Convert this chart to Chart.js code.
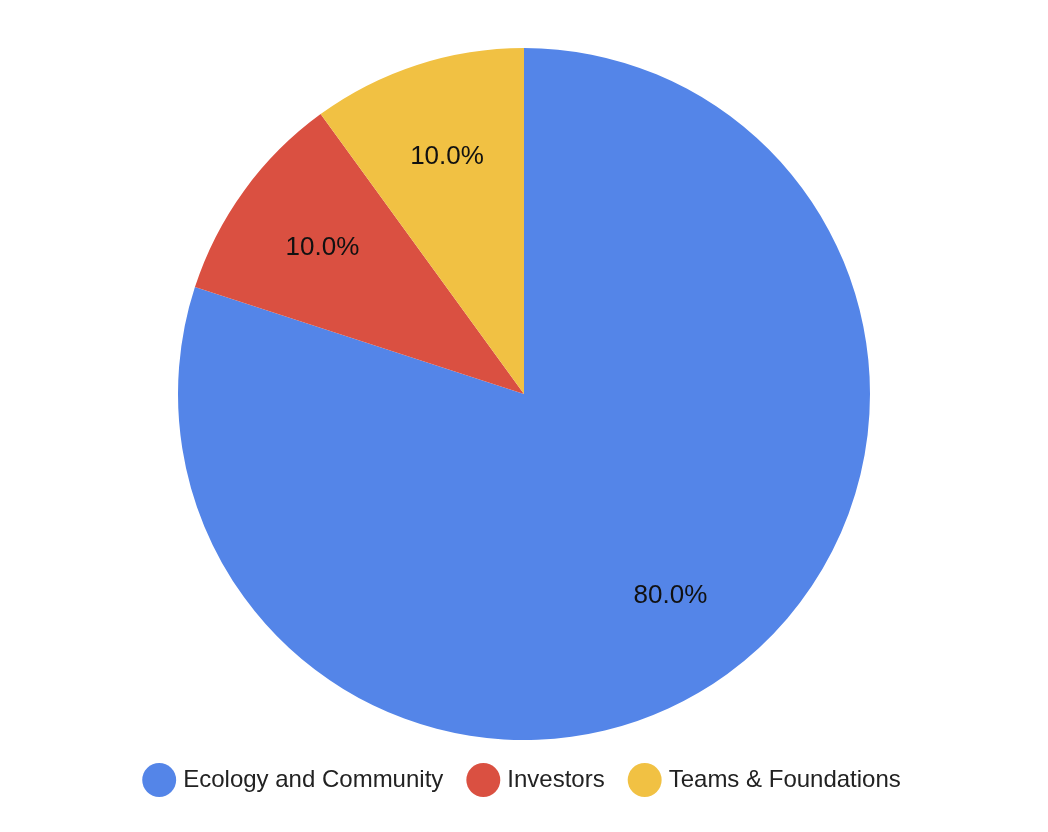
<!DOCTYPE html>
<html>
<head>
<script src="https://cdn.jsdelivr.net/npm/chart.js"></script>
<style>
  body { margin: 0; background: #fff; }
  #wrap { width: 1048px; height: 832px; }
</style>
</head>
<body>
<div id="wrap"><canvas id="myChart"></canvas></div>
<script>
var labels = ['Ecology and Community', 'Investors', 'Teams & Foundations'];
var values = [80, 10, 10];
var colors = ['#5485E8', '#DA5041', '#F1C143'];

// percent labels inside slices
var sliceLabels = {
  id: 'sliceLabels',
  afterDatasetsDraw: function (chart) {
    var ctx = chart.ctx;
    var meta = chart.getDatasetMeta(0);
    var total = values.reduce(function (a, b) { return a + b; }, 0);
    ctx.save();
    ctx.font = '26px "Liberation Sans", Arial, sans-serif';
    ctx.fillStyle = '#111';
    ctx.textAlign = 'center';
    ctx.textBaseline = 'middle';
    meta.data.forEach(function (arc, i) {
      var mid = (arc.startAngle + arc.endAngle) / 2;
      var r = arc.outerRadius * 0.72;
      var x = arc.x + Math.cos(mid) * r;
      var y = arc.y + Math.sin(mid) * r;
      ctx.fillText((values[i] / total * 100).toFixed(1) + '%', x, y);
    });
    ctx.restore();
  }
};

new Chart(document.getElementById('myChart'), {
  type: 'pie',
  data: {
    labels: labels,
    datasets: [{
      data: values,
      backgroundColor: colors,
      borderWidth: 0
    }]
  },
  options: {
    responsive: true,
    maintainAspectRatio: false,
    animation: false,
    layout: { padding: { top: 48, bottom: 30 } },
    plugins: {
      tooltip: { enabled: false },
      legend: {
        position: 'bottom',
        labels: {
          usePointStyle: true,
          pointStyle: 'circle',
          boxWidth: 24,
          boxHeight: 24,
          padding: 28,
          color: '#222',
          font: { size: 24, family: '"Liberation Sans", Arial, sans-serif' }
        }
      }
    }
  },
  plugins: [sliceLabels]
});
</script>
</body>
</html>
